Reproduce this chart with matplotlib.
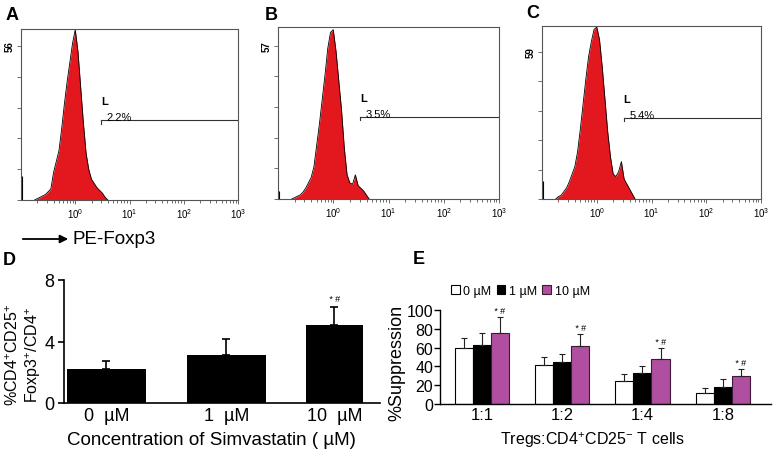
import numpy as np
import matplotlib
matplotlib.use("Agg")
import matplotlib.pyplot as plt
from matplotlib.ticker import FixedLocator, LogLocator, NullFormatter
from matplotlib.patches import Patch

plt.rcParams['font.family'] = ['Liberation Sans', 'DejaVu Sans']
plt.rcParams['mathtext.fontset'] = 'custom'
plt.rcParams['mathtext.rm'] = 'Liberation Sans'
plt.rcParams['mathtext.it'] = 'Liberation Sans:italic'
plt.rcParams['mathtext.bf'] = 'Liberation Sans:bold'
plt.rcParams['mathtext.default'] = 'regular'

# ---- flow histograms (A, B, C): counts per log10 bin, bins start at -0.75, step 0.05
hist_start = -0.75
hist_step = 0.05
counts_a = [0, 0.5, 1, 1.5, 2, 3, 4, 10, 14, 18, 26, 35, 43, 50, 57, 62, 54, 41, 28, 17,
            11, 7.5, 6, 4.5, 3.5, 2.5, 1, 0]
counts_b = [0, 0.5, 1, 1.5, 2.5, 4, 6, 8, 12, 20, 28, 37, 46, 56, 62, 63, 55, 44, 33, 19,
            9, 6, 5.5, 9, 5, 4, 3, 1.5, 0]
counts_c = [0, 1, 1.5, 3, 4.5, 7, 10, 13, 19, 28, 38, 48, 57, 63, 68, 69, 64, 53, 40, 27,
            17, 10, 9, 11, 15, 8, 6, 4, 2, 0]
edge_counts = [8.8, 3, 7.3]          # pile-up in the first channel
y_label_vals = [56, 57, 59]
y_top = [62.2, 64, 69.4]
gate_lo = [3.0, 3.06, 3.1]
gate_y = [29, 30.5, 32.4]
gate_pct = ['2.2%', '3.5%', '5.4%']

# ---- panel D
d_labels = ['0  µM', '1  µM', '10  µM']
d_vals = [2.2, 3.15, 5.05]
d_err = [0.5, 1.0, 1.2]
d_sig = [False, False, True]

# ---- panel E
e_groups = ['1:1', '1:2', '1:4', '1:8']
e_series = ['0 µM', '1 µM', '10 µM']
e_0 = [59.5, 41, 25, 12]
e_1 = [63, 45, 32.5, 18.5]
e_10 = [76, 62, 48, 29.5]
e_err0 = [11, 9, 6.5, 5.5]
e_err1 = [13, 8, 8, 8]
e_err10 = [17, 13, 12, 8]
e_sig = [True, True, True, True]

W, H = 774, 452
fig = plt.figure(figsize=(W / 100, H / 100), dpi=100)


def px_axes(l, t, r, b):
    return fig.add_axes([l / W, 1 - b / H, (r - l) / W, (b - t) / H])


red = '#e3171e'
magenta = '#b04f9f'

boxes = [(21, 30, 238, 201), (278, 28, 499, 200), (542, 27, 761, 200)]
all_counts = [counts_a, counts_b, counts_c]
for i, (box, cnt) in enumerate(zip(boxes, all_counts)):
    ax = px_axes(*box)
    x = 10 ** (hist_start + hist_step * np.arange(len(cnt)))
    ax.fill_between(x, cnt, 0, color=red, lw=0)
    ax.plot(x, cnt, color='black', lw=0.6)
    ax.vlines(0.103, 0, edge_counts[i], color='black', lw=0.8)
    ax.set_xscale('log')
    ax.set_xlim(0.1, 1000)
    ax.set_ylim(0, y_top[i])
    ax.xaxis.set_major_locator(FixedLocator([1, 10, 100, 1000]))
    ax.set_xticklabels(['$10^{0}$', '$10^{1}$', '$10^{2}$', '$10^{3}$'], fontsize=7)
    ax.xaxis.set_minor_locator(LogLocator(base=10, subs=np.arange(2, 10)))
    ax.xaxis.set_minor_formatter(NullFormatter())
    yt = np.linspace(0, y_label_vals[i], 6)
    ax.set_yticks(yt)
    ax.set_yticklabels([''] * 5 + [str(y_label_vals[i])], rotation=90, va='center',
                       fontsize=7, fontweight='bold')
    ax.tick_params(which='both', direction='out', color='#555555', width=0.6, pad=1.5)
    ax.tick_params(which='major', length=3)
    ax.tick_params(which='minor', length=2)
    for s in ax.spines.values():
        s.set_color('#555555')
        s.set_linewidth(0.8)
    # gate
    ax.plot([gate_lo[i], 1000], [gate_y[i], gate_y[i]], color='#333333', lw=0.8)
    ax.plot([gate_lo[i], gate_lo[i]], [gate_y[i], gate_y[i] - 1.2], color='#333333', lw=0.8)
    ax.annotate('L', (gate_lo[i], gate_y[i]), xytext=(0, 10), textcoords='offset points',
                fontsize=8, fontweight='bold', va='bottom', ha='left')
    ax.annotate(gate_pct[i], (gate_lo[i], gate_y[i]), xytext=(4, -1.5),
                textcoords='offset points', fontsize=8, va='bottom', ha='left')

# panel letters
for letter, (lx, ly) in zip('ABCDE', [(6, 7), (265, 7), (526, 5), (3, 252), (413, 251)]):
    fig.text(lx / W, 1 - ly / H, letter, fontsize=13, fontweight='bold', va='top', ha='left')

# PE-Foxp3 arrow
fig.add_artist(matplotlib.patches.FancyArrowPatch(
    (20 / W, 1 - 240 / H), (71 / W, 1 - 240 / H), transform=fig.transFigure,
    arrowstyle='-|>', mutation_scale=12, color='black', lw=1.3))
fig.text(73 / W, 1 - 240 / H, 'PE-Foxp3', fontsize=13.5, va='center', ha='left')

# ---- panel D
axd = px_axes(64, 281, 380, 404)
d_pos = [0, 1, 1.9]
d_w = [0.66, 0.66, 0.47]
axd.bar(d_pos, d_vals, width=d_w, color='black')
axd.errorbar(d_pos, d_vals, yerr=[np.zeros(3), d_err], fmt='none', ecolor='black',
             elinewidth=1.2, capsize=3, capthick=1.2)
for p, v, e, s in zip(d_pos, d_vals, d_err, d_sig):
    if s:
        axd.text(p, v + e + 0.25, '* #', fontsize=6.5, ha='center', va='bottom',
                 style='italic')
axd.set_xlim(-0.354, 2.28)
axd.set_ylim(0, 8)
axd.set_yticks([0, 4, 8])
axd.set_xticks(d_pos)
axd.set_xticklabels(d_labels)
axd.tick_params(axis='y', labelsize=13, length=4, width=1.2, pad=3)
axd.tick_params(axis='x', labelsize=13, length=0, pad=3)
for s in ['top', 'right']:
    axd.spines[s].set_visible(False)
for s in ['left', 'bottom']:
    axd.spines[s].set_linewidth(1.2)
axd.set_xlabel('Concentration of Simvastatin ( µM)', fontsize=13.5)
axd.xaxis.set_label_coords(0.465, -0.295, transform=axd.transAxes)
axd.xaxis.label.set_va('center')
fig.text(24 / W, 1 - 355 / H, '%CD4$^{+}$CD25$^{+}$\nFoxp3$^{+}$/CD4$^{+}$', fontsize=11.5,
         rotation=90, ha='center', va='center', linespacing=1.15, multialignment='center')

# ---- panel E
axe = px_axes(440, 311, 771, 405)
xg = np.arange(len(e_groups))
bw = 0.225
vals = [e_0, e_1, e_10]
errs = [e_err0, e_err1, e_err10]
faces = ['white', 'black', magenta]
edges = ['black', 'black', '#3a1a35']
for k in range(3):
    xk = xg + (k - 1) * bw
    axe.bar(xk, vals[k], width=bw, color=faces[k], edgecolor=edges[k], lw=0.8)
    axe.errorbar(xk, vals[k], yerr=[np.zeros(4), errs[k]], fmt='none', ecolor='#222222',
                 elinewidth=0.8, capsize=2.5, capthick=0.8)
for x0, v, e, s in zip(xg + bw, e_10, e_err10, e_sig):
    if s:
        axe.text(x0, v + e + 1.5, '* #', fontsize=6.5, ha='center', va='bottom',
                 style='italic')
axe.set_xlim(-0.52, 3.6)
axe.set_ylim(0, 100)
axe.set_yticks(range(0, 101, 20))
axe.set_xticks(xg)
axe.set_xticklabels(e_groups)
axe.tick_params(axis='y', labelsize=11.5, length=4, width=1, pad=1)
axe.tick_params(axis='x', labelsize=12, length=0, pad=2)
for s in ['top', 'right']:
    axe.spines[s].set_visible(False)
for s in ['left', 'bottom']:
    axe.spines[s].set_linewidth(1)
axe.set_xlabel('Tregs:CD4$^{+}$CD25$^{-}$ T cells', fontsize=11.5)
axe.xaxis.set_label_coords(0.46, -0.375, transform=axe.transAxes)
axe.xaxis.label.set_va('center')
axe.set_ylabel('%Suppression', fontsize=13)
axe.yaxis.set_label_coords(-0.105, 0.45)
handles = [Patch(facecolor=f, edgecolor=ec, lw=0.8) for f, ec in zip(faces, edges)]
axe.legend(handles, e_series, ncol=3, frameon=False, fontsize=9,
           loc='center left', bbox_to_anchor=(451 / W, 1 - 292 / H),
           bbox_transform=fig.transFigure, handlelength=0.7, handleheight=0.7,
           handletextpad=0.3, columnspacing=0.4, borderpad=0, borderaxespad=0)

fig.savefig('out.png', dpi=100)
